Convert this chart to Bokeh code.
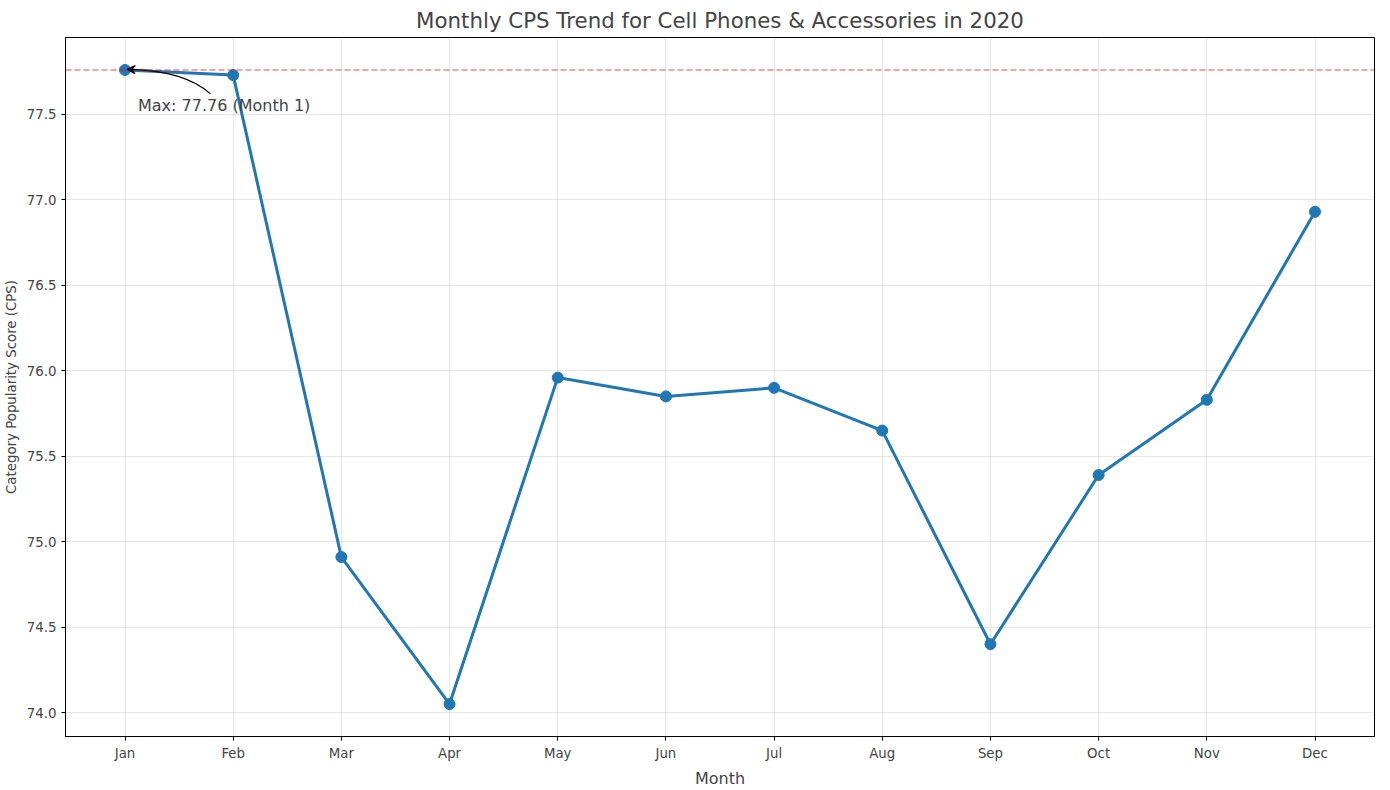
from bokeh.plotting import figure
from bokeh.models import Span, Arrow, VeeHead, Range1d, FixedTicker, Label
from bokeh.embed import file_html
from bokeh.resources import INLINE

months = ["Jan","Feb","Mar","Apr","May","Jun","Jul","Aug","Sep","Oct","Nov","Dec"]
cps = [77.76, 77.73, 74.91, 74.05, 75.96, 75.85, 75.90, 75.65, 74.40, 75.39, 75.83, 76.93]
yticks = [74.0, 74.5, 75.0, 75.5, 76.0, 76.5, 77.0, 77.5]

x = list(range(len(months)))
p = figure(output_backend="svg", toolbar_location=None, width=1374, height=774,
           frame_width=1309, frame_height=699, min_border_left=63, min_border_right=2,
           min_border_top=26, min_border_bottom=49,
           x_range=Range1d(-0.55, 11.55), y_range=Range1d(73.86, 77.95))
p.title.text = "Monthly CPS Trend for Cell Phones & Accessories in 2020"
p.title.align = "center"
p.title.text_font = "DejaVu Sans"
p.title.text_font_size = "16pt"
p.title.text_font_style = "normal"

p.line(x, cps, line_width=3, color="#1f77b4")
p.scatter(x, cps, size=11, color="#1f77b4")
mx = max(cps); mi = cps.index(mx)
p.add_layout(Span(location=mx, dimension="width", line_color="red", line_alpha=0.5,
                  line_dash="6 3", line_width=1.5))
p.bezier(x0=[mi + 0.79], y0=[77.62], x1=[mi + 0.03], y1=[77.765],
         cx0=[mi + 0.6], cy0=[77.73], cx1=[mi + 0.3], cy1=[77.76], line_color="black", line_width=1.2)
p.add_layout(Arrow(end=VeeHead(size=8, line_color="black", fill_color=None, line_width=1.2),
                   x_start=mi + 0.1, y_start=77.762, x_end=mi + 0.02, y_end=77.764,
                   line_color="black", line_width=1.2))
p.add_layout(Label(x=mi + 0.12, y=77.55, text=f"Max: {mx:.2f} (Month {mi+1})",
                   text_font="DejaVu Sans", text_font_size="12pt", text_baseline="middle"))

p.xaxis.ticker = FixedTicker(ticks=x)
p.xaxis.major_label_overrides = {i: m for i, m in enumerate(months)}
p.yaxis.ticker = FixedTicker(ticks=yticks)
p.yaxis.major_label_overrides = {t: f"{t:.1f}" for t in yticks}
p.xaxis.axis_label = "Month"
p.yaxis.axis_label = "Category Popularity Score (CPS)"
for ax in (p.xaxis, p.yaxis):
    ax.axis_label_text_font = "DejaVu Sans"
    ax.axis_label_text_font_style = "normal"
    ax.major_label_text_font = "DejaVu Sans"
    ax.major_label_text_font_size = "10pt"
    ax.minor_tick_line_color = None
    ax.major_tick_out = 4
    ax.major_tick_in = 0
p.xaxis.axis_label_text_font_size = "12pt"
p.yaxis.axis_label_text_font_size = "10pt"
p.grid.grid_line_alpha = 0.3
p.grid.grid_line_color = "#b0b0b0"
p.outline_line_color = "black"
p.outline_line_alpha = 1

open("out.html", "w").write(file_html(p, INLINE))
